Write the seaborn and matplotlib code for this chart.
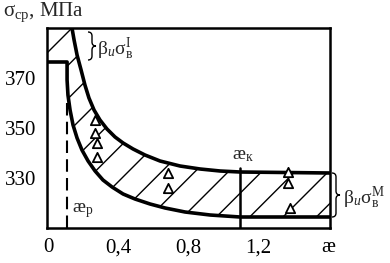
import numpy as np
import matplotlib
matplotlib.use("Agg")
import matplotlib.pyplot as plt
import matplotlib.transforms as mtransforms
from matplotlib.path import Path
from matplotlib.patches import PathPatch
import seaborn as sns

sns.set_theme(style="white")
plt.rcParams['font.family'] = ['Liberation Serif', 'DejaVu Serif']
plt.rcParams['mathtext.fontset'] = 'custom'
plt.rcParams['mathtext.rm'] = 'Liberation Serif'
plt.rcParams['mathtext.it'] = 'Liberation Serif:italic'
plt.rcParams['mathtext.bf'] = 'Liberation Serif:bold'
plt.rcParams['hatch.linewidth'] = 1.0
plt.rcParams['hatch.color'] = 'black'

# upper boundary of the scatter band (æ, σ_ср MPa)
upper_x = [0.137, 0.149, 0.166, 0.189, 0.211, 0.234, 0.263, 0.297, 0.337, 0.383,
           0.429, 0.486, 0.554, 0.640, 0.754, 0.869, 0.983, 1.097, 1.611]
upper_y = [390.0, 385.2, 379.2, 373.2, 367.2, 362.0, 357.2, 353.2, 349.6, 346.4,
           344.0, 341.6, 339.2, 336.8, 334.8, 333.6, 332.8, 332.4, 332.0]

# lower boundary of the band
lower_x = [0.0, 0.109, 0.109, 0.114, 0.126, 0.143, 0.166, 0.194, 0.229, 0.269, 0.314,
           0.366, 0.429, 0.497, 0.583, 0.669, 0.783, 0.926, 1.097, 1.611]
lower_y = [376.4, 376.4, 369.2, 363.2, 357.2, 351.2, 346.0, 341.2, 336.8, 332.8, 329.2,
           326.4, 323.6, 321.6, 319.6, 318.0, 316.4, 315.2, 314.4, 314.4]

# experimental points
pts_x = [0.27, 0.27, 0.28, 0.28, 0.686, 0.686, 1.37, 1.37, 1.38]
pts_y = [353.2, 348.0, 344.0, 338.4, 332.0, 326.0, 332.4, 328.0, 318.0]

ae_p = 0.11
ae_k = 1.097
x_ticks = [0, 0.4, 0.8, 1.2, 1.6]
x_labels = ['0', '0,4', '0,8', '1,2', 'æ']
y_ticks = [330, 350, 370]

W, H = 390, 263
fig = plt.figure(figsize=(W / 100, H / 100), dpi=100)
ax = fig.add_axes([47 / W, 1 - 228 / H, (330 - 47) / W, (228 - 28) / H])
ax.set_xlim(-0.0057, 1.611)
ax.set_ylim(310, 390)

# hatched band
poly_x = [0.0] + upper_x + lower_x[::-1]
poly_y = [390.0] + upper_y + lower_y[::-1]
ax.fill(poly_x, poly_y, facecolor='none', edgecolor='black', hatch='/', linewidth=0)

sns.lineplot(x=upper_x, y=upper_y, sort=False, estimator=None, color='black', lw=2.6, ax=ax)
sns.lineplot(x=lower_x, y=lower_y, sort=False, estimator=None, color='black', lw=2.6, ax=ax)

ax.plot([ae_p, ae_p], [310, 362], color='black', lw=1.5, dashes=(6, 3))
ax.plot([ae_k, ae_k], [310, 334], color='black', lw=1.8)

sns.scatterplot(x=pts_x, y=pts_y, marker='^', s=45, facecolor='white',
                edgecolor='black', linewidth=1.3, ax=ax, zorder=5)

for s in ax.spines.values():
    s.set_color('black')
    s.set_linewidth(1.8)

ax.set_xticks(x_ticks)
ax.set_xticklabels(x_labels)
ax.set_yticks(y_ticks)
ax.tick_params(direction='inout', length=7, width=1.5, colors='black',
               labelsize=15, pad=4)
xt = ax.xaxis.get_major_ticks()
for i in (0, len(xt) - 1):
    xt[i].tick1line.set_visible(False)

ax.text(0.137, 317, r'$\mathrm{æ}_{\mathrm{р}}$', fontsize=14, va='center', ha='left')
ax.text(1.05, 339, r'$\mathrm{æ}_{\mathrm{к}}$', fontsize=14, va='center', ha='left')

px = mtransforms.Affine2D().scale(1 / W, -1 / H).translate(0, 1) + fig.transFigure


def brace(x0, ya, yb, w, r=4):
    ym = (ya + yb) / 2
    xm = x0 + w / 2
    verts = [(x0, ya), (xm, ya), (xm, ya + r), (xm, ym - r), (xm, ym), (x0 + w, ym),
             (xm, ym), (xm, ym + r), (xm, yb - r), (xm, yb), (x0, yb)]
    codes = [Path.MOVETO, Path.CURVE3, Path.CURVE3, Path.LINETO, Path.CURVE3, Path.CURVE3,
             Path.CURVE3, Path.CURVE3, Path.LINETO, Path.CURVE3, Path.CURVE3]
    fig.add_artist(PathPatch(Path(verts, codes), fill=False, lw=1.0, color='black', transform=px))


brace(88, 32, 60, 8)
brace(332, 173, 217, 8)

fig.text(3 / W, 1 - 16 / H, r'$\mathrm{σ}_{\mathrm{ср}}$, МПа', fontsize=15, va='baseline')
fig.text(97 / W, 1 - 55 / H, r'$\mathrm{β}_{и}\mathrm{σ}_{\mathrm{в}}^{\mathrm{I}}$', fontsize=14, va='baseline')
fig.text(343 / W, 1 - 204 / H, r'$\mathrm{β}_{и}\mathrm{σ}_{\mathrm{в}}^{\mathrm{М}}$', fontsize=14, va='baseline')

fig.savefig('out.png', dpi=100)
